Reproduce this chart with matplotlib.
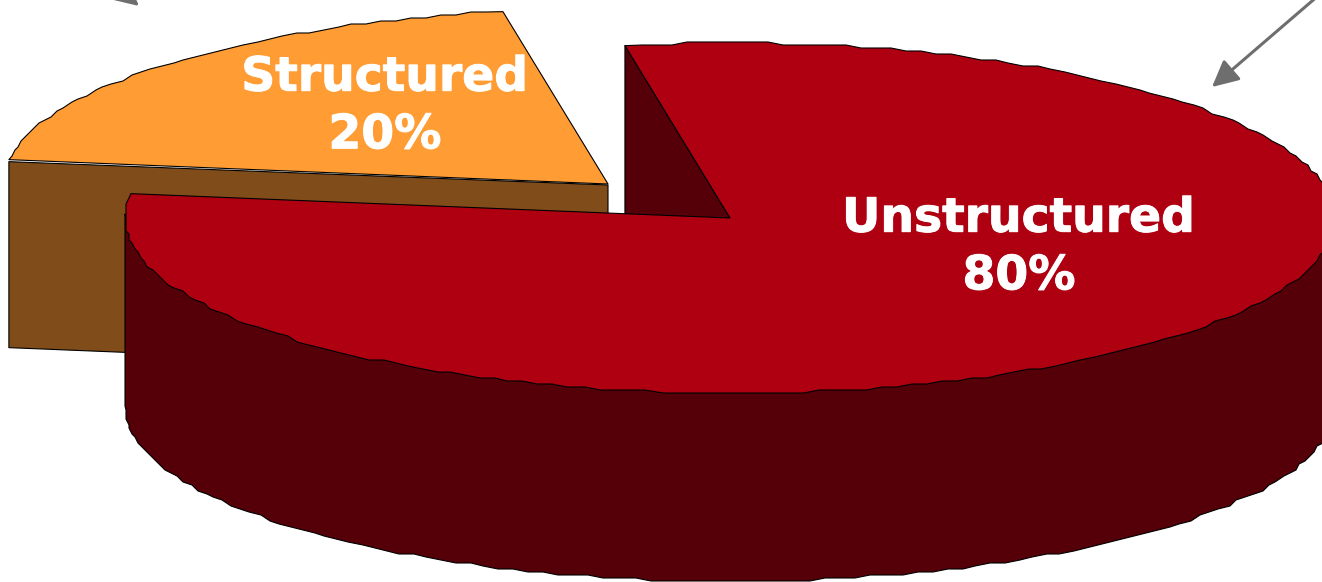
# plot.py
# 3D 风格饼图：非结构化 / 结构化数据占比，结构化扇区向左上方分离

import numpy as np
import matplotlib
matplotlib.use("Agg")
import matplotlib.pyplot as plt
import matplotlib.patheffects as pe
from matplotlib.patches import Polygon

categories = ["Unstructured", "Structured"]
shares = [80, 20]

top_colors = ["#AE0010", "#FF9C33"]
side_colors = ["#550008", "#7F4C1A"]
arrow_color = "#6E6E6E"

START_ANGLE = 100       # 第一个扇区的起始角，顺时针排列
RX, RY = 605, 175       # 椭圆半轴（像素）
DEPTH = 188             # 饼的厚度
CENTER = (730, 218)
EXPLODE = (-122, -34)   # 结构化扇区的偏移
SNAP = 3                # 边缘量化步长，让轮廓带一点锯齿
STEP = 1.5


def rim(center, a0, a1):
    # 椭圆弧上的点，角度单位为度，y 轴向下
    t = np.radians(np.arange(a0, a1, STEP if a1 > a0 else -STEP).tolist() + [a1])
    x = center[0] + RX * np.cos(t)
    y = center[1] - RY * np.sin(t)
    pts = np.column_stack([x, y])
    pts[1:-1] = np.round(pts[1:-1] / SNAP) * SNAP
    return pts


def add_poly(ax, pts, color, z):
    ax.add_patch(Polygon(pts, closed=True, facecolor=color, edgecolor="black",
                         linewidth=0.8, joinstyle="round", zorder=z))


def plot():
    fig = plt.figure(figsize=(13.22, 5.82), dpi=100)
    ax = fig.add_axes([0, 0, 1, 1])
    ax.set_xlim(0, 1322)
    ax.set_ylim(582, 0)
    ax.axis("off")

    # 各扇区的起止角
    sweep = [s / sum(shares) * 360 for s in shares]
    red_start = START_ANGLE
    red_end = red_start - sweep[0]
    orange_start = red_start + sweep[1]
    orange_end = red_start

    # 结构化扇区：先画侧面，再画顶面
    apex = np.array(CENTER) + np.array(EXPLODE)
    edge = rim(apex, orange_start, orange_start + 0.01)[0]
    add_poly(ax, [edge + (0, 2), apex + (0, 1), apex + (0, DEPTH), edge + (0, DEPTH)],
             side_colors[1], 1)
    top = rim(apex, orange_start, orange_end)
    add_poly(ax, np.vstack([top, apex]), top_colors[1], 2)

    # 非结构化扇区：切面、外侧面、顶面
    c = np.array(CENTER, dtype=float)
    start_pt = rim(c, red_start, red_start + 0.01)[0]
    add_poly(ax, [c, start_pt, start_pt + (0, DEPTH), c + (0, DEPTH)], side_colors[0], 3)

    # 外侧面向上多留一段，避免和顶面之间露出缝隙
    outer = rim(c, 180, 360)
    lower = outer + (0, DEPTH)
    add_poly(ax, np.vstack([outer - (0, 4), lower[::-1]]), side_colors[0], 4)

    # 顶面弧线从起始角顺时针走到结束角
    top = rim(c, red_start, red_end)
    add_poly(ax, np.vstack([top, c]), top_colors[0], 5)

    # 标签
    label_pos = [(1019, 248), (385, 107)]
    for name, share, (lx, ly) in zip(categories, shares, label_pos):
        ax.text(lx, ly, f"{name}\n{share}%", color="white", fontsize=34,
                fontweight="bold", family="DejaVu Sans", ha="center", va="center",
                linespacing=1.36, zorder=6,
                path_effects=[pe.withStroke(linewidth=0.7, foreground="white")])

    # 指向扇区的两个箭头，起点在画布外
    arrow = dict(arrowstyle="-|>,head_length=1.0,head_width=0.5", color=arrow_color,
                 lw=2.2, shrinkA=0, shrinkB=0, mutation_scale=16)
    ax.annotate("", xy=(1212, 87), xytext=(1326, -11), arrowprops=arrow,
                annotation_clip=False, zorder=7)
    ax.annotate("", xy=(139, 6), xytext=(60, -60), arrowprops=arrow,
                annotation_clip=False, zorder=7)

    fig.savefig("out.png", dpi=100)


if __name__ == "__main__":
    plot()
